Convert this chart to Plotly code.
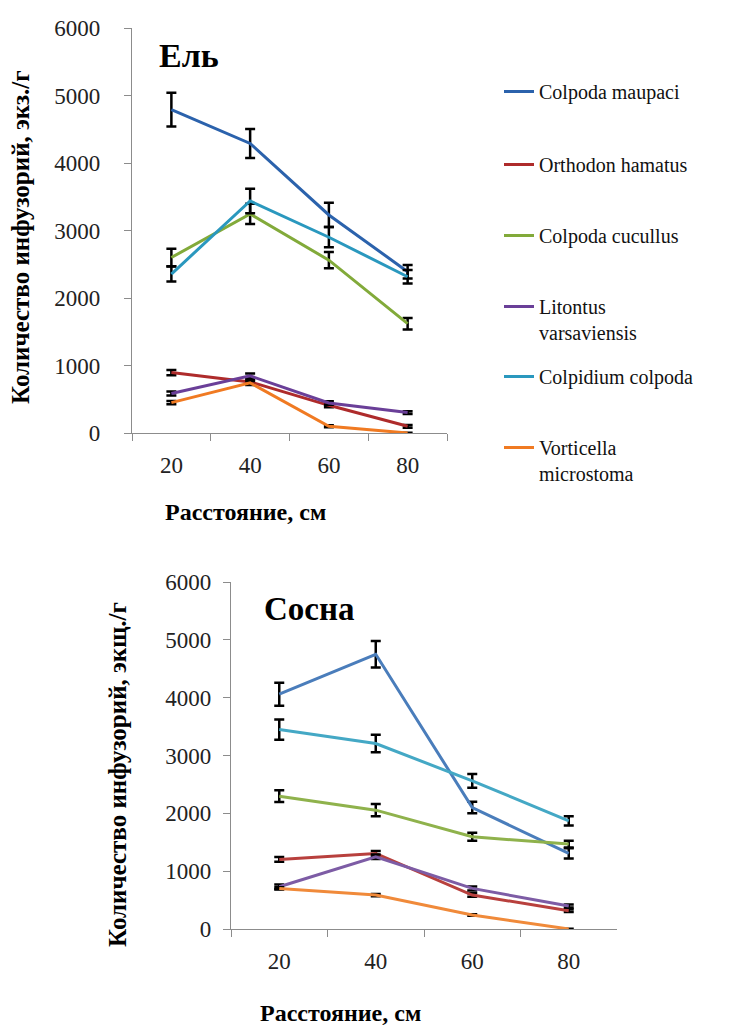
import plotly.graph_objects as go

distances = ["20", "40", "60", "80"]
species = ["Colpoda maupaci", "Orthodon hamatus", "Colpoda cucullus",
           "Litontus varsaviensis", "Colpidium colpoda", "Vorticella microstoma"]
legend_labels = ["Colpoda maupaci", "Orthodon hamatus", "Colpoda cucullus",
                 "Litontus<br>varsaviensis", "Colpidium colpoda", "Vorticella<br>microstoma"]

# Ель (spruce)
spruce_maupaci = [4790, 4290, 3230, 2390]
spruce_maupaci_err = [250, 215, 180, 100]
spruce_orthodon = [895, 757, 410, 99]
spruce_orthodon_err = [40, 35, 30, 20]
spruce_cucullus = [2600, 3245, 2560, 1620]
spruce_cucullus_err = [130, 150, 120, 85]
spruce_litontus = [584, 846, 445, 302]
spruce_litontus_err = [30, 35, 25, 20]
spruce_colpidium = [2355, 3437, 2900, 2315]
spruce_colpidium_err = [110, 180, 150, 100]
spruce_vorticella = [450, 742, 99, 0]
spruce_vorticella_err = [25, 30, 15, 5]

# Сосна (pine)
pine_maupaci = [4060, 4750, 2100, 1307]
pine_maupaci_err = [200, 230, 100, 90]
pine_orthodon = [1203, 1307, 587, 317]
pine_orthodon_err = [40, 40, 30, 25]
pine_cucullus = [2297, 2055, 1595, 1468]
pine_cucullus_err = [100, 105, 70, 60]
pine_litontus = [731, 1249, 702, 397]
pine_litontus_err = [40, 40, 35, 25]
pine_colpidium = [3448, 3207, 2562, 1871]
pine_colpidium_err = [175, 150, 120, 80]
pine_vorticella = [702, 587, 242, 0]
pine_vorticella_err = [20, 20, 15, 5]

spruce = [spruce_maupaci, spruce_orthodon, spruce_cucullus,
          spruce_litontus, spruce_colpidium, spruce_vorticella]
spruce_err = [spruce_maupaci_err, spruce_orthodon_err, spruce_cucullus_err,
              spruce_litontus_err, spruce_colpidium_err, spruce_vorticella_err]
pine = [pine_maupaci, pine_orthodon, pine_cucullus,
        pine_litontus, pine_colpidium, pine_vorticella]
pine_err = [pine_maupaci_err, pine_orthodon_err, pine_cucullus_err,
            pine_litontus_err, pine_colpidium_err, pine_vorticella_err]

colors_top = ["#2B62AC", "#AE2B2B", "#82AA3A", "#6A3F98", "#2A98BE", "#F07A22"]
colors_bot = ["#4A7DBB", "#B8403D", "#8FB24C", "#7D5CA5", "#44A8C5", "#F08A3A"]

W, H = 729, 1025
SERIF = "Liberation Serif"

fig = go.Figure()

legend_y_px = [92, 165, 236, 307, 377, 448]

for i in range(6):
    lg = "legend" if i == 0 else f"legend{i+1}"
    fig.add_trace(go.Scatter(
        x=distances, y=spruce[i], mode="lines", name=legend_labels[i],
        line=dict(color=colors_top[i], width=3),
        error_y=dict(type="data", array=spruce_err[i], color="black",
                     thickness=2.5, width=5),
        xaxis="x", yaxis="y", legend=lg, showlegend=True))

for i in range(6):
    fig.add_trace(go.Scatter(
        x=distances, y=pine[i], mode="lines", name=species[i],
        line=dict(color=colors_bot[i], width=3),
        error_y=dict(type="data", array=pine_err[i], color="black",
                     thickness=2.5, width=5),
        xaxis="x2", yaxis="y2", showlegend=False))

def px_x(p):
    return p / W

def px_y(p):
    return 1 - p / H

axis_common = dict(showgrid=False, zeroline=False, showline=True,
                   linecolor="#8C8C8C", linewidth=1.2, ticks="outside",
                   ticklen=7, tickcolor="#8C8C8C", tickwidth=1.2,
                   automargin=False,
                   tickfont=dict(family=SERIF, size=23, color="#222222"))

layout = dict(
    width=W, height=H, paper_bgcolor="white", plot_bgcolor="white",
    margin=dict(l=0, r=0, t=0, b=0, autoexpand=False),
    xaxis=dict(domain=[px_x(132), px_x(447)], anchor="y", type="category",
               tickson="boundaries", range=[-0.5, 3.5], ticklabelstandoff=11,
               **axis_common),
    yaxis=dict(domain=[px_y(433), px_y(28)], anchor="x", range=[0, 6000],
               tickvals=[0, 1000, 2000, 3000, 4000, 5000, 6000],
               ticklabelstandoff=19, **axis_common),
    xaxis2=dict(domain=[px_x(231), px_x(617)], anchor="y2", type="category",
                tickson="boundaries", range=[-0.5, 3.5], ticklabelstandoff=11,
                **axis_common),
    yaxis2=dict(domain=[px_y(929), px_y(582)], anchor="x2", range=[0, 6000],
                tickvals=[0, 1000, 2000, 3000, 4000, 5000, 6000],
                ticklabelstandoff=7, **axis_common),
    showlegend=True,
)

for i in range(6):
    key = "legend" if i == 0 else f"legend{i+1}"
    layout[key] = dict(x=px_x(499), y=px_y(legend_y_px[i] - 20),
                       xanchor="left", yanchor="top", valign="top",
                       bgcolor="rgba(0,0,0,0)",
                       font=dict(family=SERIF, size=20, color="#111111"))

fig.update_layout(**layout)

annots = [
    dict(text="<b>Ель</b>", x=px_x(157), y=px_y(55), xanchor="left", yanchor="middle",
         font=dict(family=SERIF, size=34, color="black")),
    dict(text="<b>Сосна</b>", x=px_x(262), y=px_y(609), xanchor="left", yanchor="middle",
         font=dict(family=SERIF, size=33, color="black")),
    dict(text="<b>Расстояние, см</b>", x=px_x(245), y=px_y(512), xanchor="center",
         yanchor="middle", font=dict(family=SERIF, size=24, color="black")),
    dict(text="<b>Расстояние, см</b>", x=px_x(340), y=px_y(1013), xanchor="center",
         yanchor="middle", font=dict(family=SERIF, size=24, color="black")),
    dict(text="<b>Количество инфузорий, экз./г</b>", x=px_x(21), y=px_y(237),
         xanchor="center", yanchor="middle", textangle=-90,
         font=dict(family=SERIF, size=25, color="black")),
    dict(text="<b>Количество инфузорий, экщ./г</b>", x=px_x(117), y=px_y(775),
         xanchor="center", yanchor="middle", textangle=-90,
         font=dict(family=SERIF, size=25, color="black")),
]
for a in annots:
    a.update(xref="paper", yref="paper", showarrow=False)
fig.update_layout(annotations=annots)

fig.write_html("out.html")
